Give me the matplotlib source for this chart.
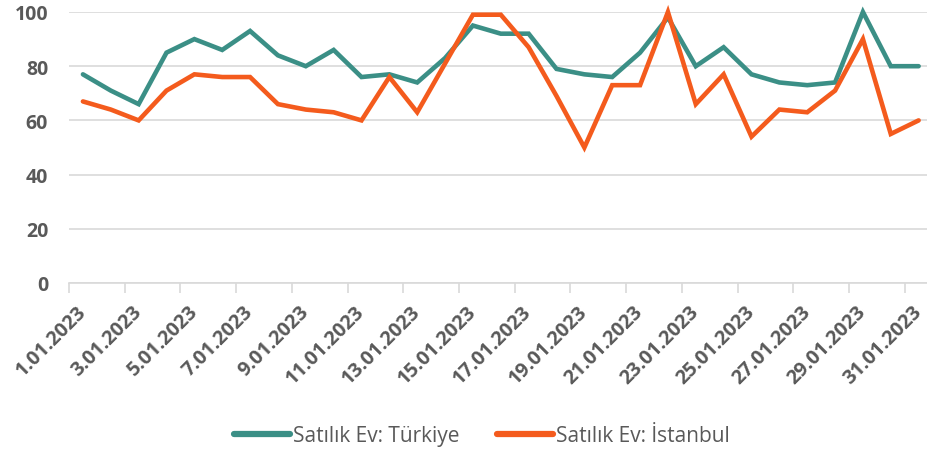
import matplotlib
matplotlib.use("Agg")
import matplotlib.pyplot as plt
import matplotlib.transforms as mtransforms
import numpy as np

days = [f"{d}.01.2023" for d in range(1, 32)]
turkiye = [77, 71, 66, 85, 90, 86, 93, 84, 80, 86, 76, 77, 74, 83, 95, 92, 92, 79, 77, 76,
           85, 98, 80, 87, 77, 74, 73, 74, 100, 80, 80]
istanbul = [67, 64, 60, 71, 77, 76, 76, 66, 64, 63, 60, 76, 63, 81, 99, 99, 87, 69, 50, 73,
            73, 100, 66, 77, 54, 64, 63, 71, 90, 55, 60]
series_names = ["Satılık Ev: Türkiye", "Satılık Ev: İstanbul"]
colors = ["#3B8F86", "#F45B1D"]
yticks = [0, 20, 40, 60, 80, 100]

plt.rcParams['font.family'] = ['Open Sans', 'DejaVu Sans']
fig = plt.figure(figsize=(9.27, 4.52), dpi=100)
ax = fig.add_axes([69/927, 1-284/452, 1-69/927, (284-13)/452])

x = np.arange(len(days))
ax.plot(x, turkiye, color=colors[0], lw=3.3, solid_joinstyle='miter', solid_capstyle='round',
        label=series_names[0], clip_on=False, zorder=3)
ax.plot(x, istanbul, color=colors[1], lw=3.3, solid_joinstyle='miter', solid_capstyle='round',
        label=series_names[1], clip_on=False, zorder=4)

ax.set_ylim(0, 100)
ax.set_xlim(-0.5, 30.3)
ax.set_yticks(yticks)
ax.set_yticklabels([str(v) for v in yticks], fontsize=14, fontweight='bold', color='#595959')
ax.tick_params(axis='y', length=0, pad=15)
ax.yaxis.grid(True, color='#D9D9D9', lw=1.2)
ax.set_axisbelow(True)

ax.set_xticks(x[::2])
ax.set_xticklabels(days[::2], rotation=45, ha='right', va='top', rotation_mode='anchor',
                   fontsize=14.3, fontweight='bold', color='#595959')
ax.tick_params(axis='x', which='major', length=0, pad=13)
shift = mtransforms.ScaledTranslation(-7/100, 0, fig.dpi_scale_trans)
for lab in ax.get_xticklabels():
    lab.set_transform(lab.get_transform() + shift)
ax.set_xticks(np.arange(-0.5, 30.5, 2), minor=True)
ax.tick_params(axis='x', which='minor', length=7, color='#D9D9D9', width=1.2)

for s in ['top', 'right', 'left']:
    ax.spines[s].set_visible(False)
ax.spines['bottom'].set_color('#D9D9D9')
ax.spines['bottom'].set_linewidth(1.2)

leg = fig.legend(loc='center', bbox_to_anchor=(482/927, 1-437/452), ncol=2, frameon=False,
                 fontsize=15, handlelength=2.7, handletextpad=0.15, columnspacing=1.8,
                 labelcolor='#595959')
for h in leg.get_lines():
    h.set_linewidth(4.5)

fig.savefig("out.png", dpi=100)
